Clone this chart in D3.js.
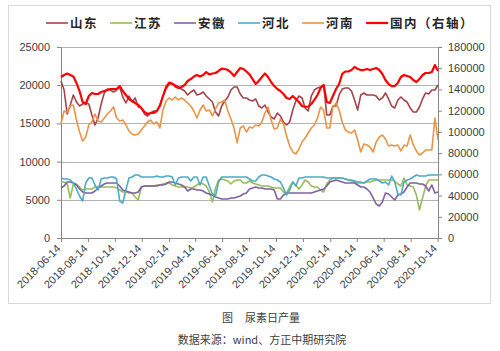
<!DOCTYPE html>
<html>
<head>
<meta charset="utf-8">
<script src="https://cdn.jsdelivr.net/npm/d3@7"></script>
<style>
  html, body { margin: 0; padding: 0; background: #fff; }
  svg { display: block; }
</style>
</head>
<body>
<div id="chart"></div>
<script>
// weekly readings, first week 2018-06-14
const startDate = new Date(2018, 5, 14);

const seriesNames = ["山东", "江苏", "安徽", "河北", "河南", "国内（右轴）"];

const shandong = [20550,19370,16230,17410,18720,17800,17280,17540,17670,17540,
  16100,14790,15710,17540,18980,19500,19370,19110,19370,19770,
  18460,17670,18590,17800,18330,17150,17020,16230,15970,16360,
  16620,16620,17410,18590,19500,20160,20160,20030,19770,19500,
  19240,18720,19110,19370,18720,18850,19110,18590,18200,17800,
  16490,15970,17280,17930,18460,19370,19770,19770,18850,18330,
  18330,18060,17930,18200,17280,17020,17410,16490,15840,15580,
  16360,15970,15180,14790,15180,16760,17930,18590,18330,17020,
  16620,18590,19370,19640,19770,20030,16100,16100,17280,17280,
  18720,19500,19640,19640,19240,18060,16760,18720,18980,18720,
  18720,18720,18590,18060,18330,18980,18200,17280,17020,18060,
  18460,18060,17800,17020,16490,16490,17150,18200,18980,18850,
  19370,19370,20030];

const jiangsu = [7330,7330,7070,5240,7070,7070,6680,6280,6410,6410,
  6410,6680,6680,6680,6680,6680,6680,6680,6550,6280,
  6020,6020,5890,5890,5370,4970,6680,6810,6810,6810,
  6810,6940,6940,7070,7200,7200,6940,6810,6680,6680,
  6680,6680,6550,6680,6940,7200,7070,6810,6020,4710,
  6550,7590,7720,7590,7460,7070,7460,7590,7590,7200,
  7200,7460,7200,7070,6940,6810,6810,6810,6680,6550,
  6550,6550,6020,5890,6680,7330,6940,6410,6940,7590,
  7330,6810,6680,6680,6280,6020,7070,7590,7850,7850,
  7850,7850,7720,7590,7460,7330,7200,7200,7200,7330,
  7330,7460,7590,7590,7590,7590,7590,7590,7460,7070,
  6810,7850,6940,6810,6680,5630,3670,5240,6810,7590,
  7590,7590,7590];

const anhui = [6550,6810,7330,7330,7200,6940,6410,6020,5890,5890,
  5890,6150,6550,6810,7070,7200,7200,7200,7200,6810,
  6280,6150,6020,5890,5890,6020,6680,6810,6810,6810,
  6810,6810,6940,6940,7070,7330,7330,7200,7070,6940,
  6680,6150,6410,6410,6280,6280,6150,5890,5760,5630,
  5370,5240,5110,5110,5110,5240,5240,5370,5500,5760,
  5890,6410,6550,6680,6550,6550,6410,6410,6410,6280,
  5110,5110,5630,5890,5890,5890,5890,5890,5890,5890,
  5890,5890,6020,6150,6280,6410,6810,7330,7460,7590,
  7460,7330,7200,7200,7200,7200,6940,6680,6680,6410,
  6020,5240,4450,4190,4710,5890,5760,5370,4970,5630,
  5760,6020,6680,7200,7200,7200,7070,7070,6810,6150,
  6940,5890,6020];

const hebei = [7850,7720,7720,7590,7200,6410,5500,4840,7200,7850,
  7850,6940,6280,7720,7850,7850,7980,7980,7720,4840,
  4580,6280,7850,7980,8250,8250,7980,7980,7980,7980,
  7980,8120,7980,7980,8120,8120,7980,6940,7850,7980,
  7980,7980,7460,7980,7980,6940,7980,7980,6810,5760,
  5500,7330,7980,7980,7980,7980,7980,7980,7980,7980,
  7980,7720,7460,7460,7980,8250,8250,8120,7980,7720,
  7590,7330,6550,5630,6280,7330,6810,7850,7850,7980,
  7980,7980,7980,7980,7980,7980,7850,7850,7850,7850,
  7850,7850,7720,7590,7590,7460,7330,7330,7200,7460,
  7720,7720,7720,7460,7200,7330,6940,8120,7330,5760,
  5630,7330,7590,7720,7980,8250,8120,8120,8120,8250,
  8250,8250,8250];

const henan = [14920,16620,16490,17280,17410,15450,13880,12700,13220,14790,
  15180,16230,15320,15180,15710,16230,16620,17150,15710,15320,
  15450,14790,14010,13610,13480,13610,14140,14660,15180,15450,
  14920,15180,14400,16760,17930,18330,18060,18460,18060,18330,
  18060,17670,17280,16620,15710,16760,17410,16620,16760,15970,
  16890,17670,17800,18060,16620,15580,14400,12440,14400,14660,
  13880,14530,14400,14790,14660,15180,16360,17150,15450,14270,
  14400,15580,14920,13350,12040,11260,11000,11650,12570,13090,
  13740,14400,14790,15710,17150,16760,14400,14400,17150,17670,
  16760,15180,14140,13880,13740,14140,12830,11260,12300,12170,
  11910,11260,12570,13220,13480,12960,12040,12170,12040,12170,
  11390,12170,12040,13480,12170,11390,10860,11130,11520,11520,
  11520,15710,12830];

const national = [151700,153600,155000,153600,152200,146100,138500,128200,126300,133800,
  136600,135700,135700,137600,138500,139500,140400,140400,140400,143200,
  138500,134800,131000,129100,127200,125300,122500,118700,116900,117800,
  117800,119700,124400,133800,142300,146500,145600,142800,141400,142300,
  144200,148000,149800,152200,153600,152200,153600,156400,154100,155000,
  155500,157400,159700,159300,158300,156000,152700,156400,160200,159300,
  156900,154100,149800,145100,148000,151700,155000,151700,147000,143200,
  140400,138500,135700,131900,131000,133800,131000,128200,124400,123500,
  123900,126300,130100,134800,141400,144200,128200,127200,133800,140400,
  145100,154600,156900,156900,158300,161200,159300,158300,158300,159300,
  158300,159300,160200,158300,154600,148900,145100,143200,143200,146100,
  151700,153600,152700,151700,148900,147000,149800,153600,155500,155500,
  156400,163000,157400];

const leftTicks = [0, 5000, 10000, 15000, 20000, 25000];
const rightTicks = [0, 20000, 40000, 60000, 80000, 100000, 120000, 140000, 160000, 180000];

const W = 500, H = 351;
const margin = { top: 47, right: 62, bottom: 113, left: 61 };

const svg = d3.select("#chart").append("svg")
  .attr("width", W)
  .attr("height", H);

svg.append("rect")
  .attr("width", W).attr("height", H)
  .attr("fill", "#fff");

// outer frame
svg.append("rect")
  .attr("x", 8.5).attr("y", 5.5)
  .attr("width", 482).attr("height", 298)
  .attr("fill", "none")
  .attr("stroke", "#d9d9d9");

const dates = shandong.map((_, i) => d3.timeDay.offset(startDate, 7 * i));
const dateTicks = d3.range(15).map(k => d3.timeMonth.offset(startDate, 2 * k));

const x = d3.scaleTime()
  .domain([dates[0], dates[dates.length - 1]])
  .range([margin.left, W - margin.right]);
const yL = d3.scaleLinear().domain([0, 25000]).range([H - margin.bottom - 0, margin.top]);
const yR = d3.scaleLinear().domain([0, 180000]).range([H - margin.bottom, margin.top]);

const tickFont = "'Liberation Sans', Arial, sans-serif";
const cjkFont = "'Noto Sans CJK SC', sans-serif";

// gridlines
svg.append("g")
  .selectAll("line")
  .data(leftTicks.slice(1))
  .join("line")
  .attr("x1", margin.left).attr("x2", W - margin.right)
  .attr("y1", d => Math.round(yL(d)) + 0.5)
  .attr("y2", d => Math.round(yL(d)) + 0.5)
  .attr("stroke", "#b3b3b3")
  .attr("stroke-width", 1);

function styleAxis(g) {
  g.attr("font-family", tickFont).attr("font-size", 11);
  g.select(".domain").attr("stroke", "#868686");
  g.selectAll(".tick line").attr("stroke", "#868686");
  g.selectAll(".tick text").attr("fill", "#404040");
}

svg.append("g")
  .attr("transform", `translate(${margin.left},0)`)
  .call(d3.axisLeft(yL).tickValues(leftTicks).tickSize(4).tickSizeOuter(0).tickPadding(7).tickFormat(d3.format("d")))
  .call(styleAxis);

svg.append("g")
  .attr("transform", `translate(${W - margin.right},0)`)
  .call(d3.axisRight(yR).tickValues(rightTicks).tickSize(4).tickSizeOuter(0).tickPadding(6).tickFormat(d3.format("d")))
  .call(styleAxis);

const xAxis = svg.append("g")
  .attr("transform", `translate(0,${H - margin.bottom})`)
  .call(d3.axisBottom(x).tickValues(dateTicks).tickSize(4).tickSizeOuter(0).tickFormat(d3.timeFormat("%Y-%m-%d")))
  .call(styleAxis);

xAxis.selectAll(".tick text")
  .attr("text-anchor", "end")
  .attr("x", -8)
  .attr("y", 4)
  .attr("dy", "0.35em")
  .attr("transform", "rotate(-45)");

// series
const series = [
  { name: seriesNames[0], values: shandong, color: "#a5434a", width: 1.6, y: yL },
  { name: seriesNames[1], values: jiangsu, color: "#9bbb59", width: 1.6, y: yL },
  { name: seriesNames[2], values: anhui, color: "#7f62a0", width: 1.6, y: yL },
  { name: seriesNames[3], values: hebei, color: "#4bacc6", width: 1.6, y: yL },
  { name: seriesNames[4], values: henan, color: "#e99447", width: 1.6, y: yL },
  { name: seriesNames[5], values: national, color: "#ff0000", width: 2.2, y: yR }
];

series.forEach(s => {
  const line = d3.line()
    .x((d, i) => x(dates[i]))
    .y(d => s.y(d));
  svg.append("path")
    .datum(s.values)
    .attr("fill", "none")
    .attr("stroke", s.color)
    .attr("stroke-width", s.width)
    .attr("stroke-linejoin", "round")
    .attr("d", line);
});

// legend
const legend = svg.append("g").attr("transform", "translate(46,23)");
let lx = 0;
series.forEach(s => {
  const g = legend.append("g").attr("transform", `translate(${lx},0)`);
  g.append("line")
    .attr("x1", 0).attr("x2", 22)
    .attr("y1", 0).attr("y2", 0)
    .attr("stroke", s.color)
    .attr("stroke-width", s.width);
  const t = g.append("text")
    .attr("x", 24)
    .attr("y", 4.5)
    .attr("font-family", cjkFont)
    .attr("font-size", 12.5)
    .attr("font-weight", "bold")
    .attr("letter-spacing", 1.5)
    .attr("fill", "#262626")
    .text(s.name);
  lx += 24 + t.node().getComputedTextLength() + 12;
});

// captions
const cap = svg.append("text")
  .attr("y", 322)
  .attr("font-family", cjkFont)
  .attr("font-size", 11)
  .attr("fill", "#404040");
cap.append("tspan").attr("x", 222).text("图");
cap.append("tspan").attr("x", 245).text("尿素日产量");

svg.append("text")
  .attr("x", 262)
  .attr("y", 344)
  .attr("text-anchor", "middle")
  .attr("font-family", cjkFont)
  .attr("font-size", 11)
  .attr("fill", "#404040")
  .text("数据来源：wind、方正中期研究院");
</script>
</body>
</html>
